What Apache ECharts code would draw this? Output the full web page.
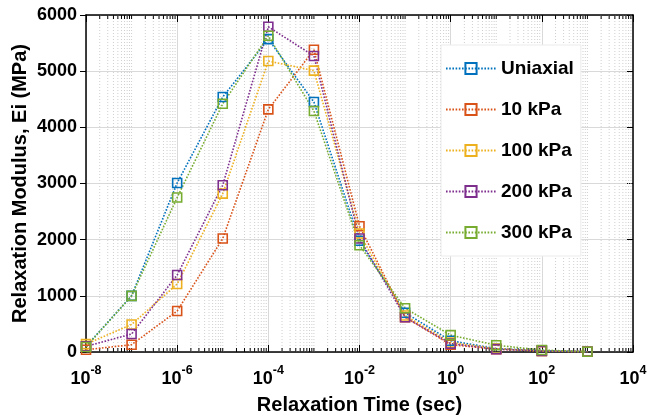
<!DOCTYPE html>
<html>
<head>
<meta charset="utf-8">
<script src="https://cdn.jsdelivr.net/npm/echarts@6/dist/echarts.min.js"></script>
<style>html,body{margin:0;padding:0;background:#fff;}#chart{width:648px;height:418px;}</style>
</head>
<body>
<div id="chart"></div>
<script>
// Relaxation times (sec)
var relaxTimes = [1e-8, 1e-7, 1e-6, 1e-5, 1e-4, 1e-3, 1e-2, 1e-1, 1e0, 1e1, 1e2, 1e3];
// Relaxation modulus Ei (MPa)
var uniaxial = [100, 1000, 3010, 4540, 5570, 4450, 1980, 700, 200, 60, 25, 5];
var kpa10    = [40, 130, 730, 2020, 4320, 5380, 2240, 620, 130, 50, 20, 5];
var kpa100   = [140, 490, 1210, 2820, 5180, 5010, 2110, 650, 170, 60, 20, 5];
var kpa200   = [100, 320, 1370, 2970, 5790, 5270, 2020, 620, 150, 50, 20, 5];
var kpa300   = [90, 1000, 2750, 4420, 5630, 4290, 1900, 780, 300, 120, 35, 5];
var seriesNames = ['Uniaxial', '10 kPa', '100 kPa', '200 kPa', '300 kPa'];
var yTicks = [0, 1000, 2000, 3000, 4000, 5000, 6000];
var xTickExponents = [-8, -6, -4, -2, 0, 2, 4];

var colors = ['#0072BD', '#D95319', '#EDB120', '#7E2F8E', '#77AC30'];
var allValues = [uniaxial, kpa10, kpa100, kpa200, kpa300];
var FONT = '"Liberation Sans", Arial, Helvetica, sans-serif';

// minor log tick positions (2..9 x 10^n plus undecorated odd decades)
var minorPos = [];
for (var n = -8; n < 4; n++) {
  if ((n - xTickExponents[0]) % 2 !== 0) minorPos.push([Math.pow(10, n), 0]);
  for (var k = 2; k <= 9; k++) minorPos.push([k * Math.pow(10, n), 0]);
}

var chart = echarts.init(document.getElementById('chart'), null, {renderer: 'canvas'});

var lineSeries = seriesNames.map(function (name, i) {
  return {
    name: name,
    type: 'line',
    data: relaxTimes.map(function (t, j) { return [t, allValues[i][j]]; }),
    symbol: 'rect',
    symbolSize: 9,
    showSymbol: true,
    color: colors[i],
    lineStyle: {color: colors[i], width: 1.6, type: [1.6, 1.6]},
    itemStyle: {color: 'rgba(255,255,255,0)', borderColor: colors[i], borderWidth: 1.6},
    emphasis: {disabled: true},
    z: 3
  };
});

var minorSeries = {
  type: 'custom',
  name: 'minor',
  silent: true,
  z: 1,
  clip: false,
  data: minorPos,
  encode: {x: 0, y: 1},
  renderItem: function (params, api) {
    var x = api.value(0);
    var top = api.coord([x, yTicks[yTicks.length - 1]]);
    var bot = api.coord([x, yTicks[0]]);
    return {
      type: 'group',
      children: [
        {type: 'line', shape: {x1: bot[0], y1: bot[1], x2: top[0], y2: top[1]},
         style: {stroke: '#cfcfcf', lineWidth: 1, lineDash: [1, 2]}},
        {type: 'line', shape: {x1: bot[0], y1: bot[1], x2: bot[0], y2: bot[1] - 4},
         style: {stroke: '#000', lineWidth: 1}},
        {type: 'line', shape: {x1: top[0], y1: top[1], x2: top[0], y2: top[1] + 4},
         style: {stroke: '#000', lineWidth: 1}}
      ]
    };
  }
};

var xLog = {
  type: 'log',
  logBase: 10,
  min: Math.pow(10, xTickExponents[0]),
  max: Math.pow(10, xTickExponents[xTickExponents.length - 1]),
  interval: 2,
  splitNumber: 6
};

var option = {
  animation: false,
  backgroundColor: '#fff',
  grid: {left: 86, right: 15, top: 15, bottom: 66, containLabel: false, outerBoundsMode: 'none'},
  legend: {
    data: seriesNames,
    orient: 'vertical',
    left: 441,
    top: 45,
    padding: [14, 7, 14, 4],
    itemWidth: 50,
    itemHeight: 14,
    itemGap: 22,
    backgroundColor: '#fff',
    borderColor: '#ebebeb',
    borderWidth: 1,
    textStyle: {fontFamily: FONT, fontWeight: 'bold', fontSize: 19, color: '#000'}
  },
  xAxis: [
    Object.assign({}, xLog, {
      position: 'bottom',
      name: 'Relaxation Time (sec)',
      nameLocation: 'middle',
      nameGap: 43,
      nameMoveOverlap: false,
      nameTextStyle: {fontFamily: FONT, fontWeight: 'bold', fontSize: 20, color: '#000'},
      axisLine: {show: true, onZero: false, lineStyle: {color: '#000', width: 1.5}},
      axisTick: {show: true, inside: true, length: 7, lineStyle: {color: '#000', width: 1}},
      minorTick: {show: false},
      splitLine: {show: true, lineStyle: {color: '#d9d9d9', width: 1}},
      axisLabel: {
        margin: 12,
        formatter: function (v) {
          var e = Math.round(Math.log(v) / Math.LN10);
          return '{b|10}{s|' + e + '}';
        },
        rich: {
          b: {fontFamily: FONT, fontWeight: 'bold', fontSize: 18, color: '#000', lineHeight: 24, verticalAlign: 'bottom'},
          s: {fontFamily: FONT, fontWeight: 'bold', fontSize: 12.5, color: '#000', lineHeight: 24, verticalAlign: 'top'}
        }
      }
    }),
    Object.assign({}, xLog, {
      position: 'top',
      axisLine: {show: true, onZero: false, lineStyle: {color: '#000', width: 1.5}},
      axisTick: {show: true, inside: true, length: 7, lineStyle: {color: '#000', width: 1}},
      axisLabel: {show: false},
      splitLine: {show: false}
    })
  ],
  yAxis: [
    {
      type: 'value',
      min: yTicks[0],
      max: yTicks[yTicks.length - 1],
      interval: 1000,
      position: 'left',
      name: 'Relaxation Modulus, Ei (MPa)',
      nameLocation: 'middle',
      nameGap: 56,
      nameMoveOverlap: false,
      nameTextStyle: {fontFamily: FONT, fontWeight: 'bold', fontSize: 20, color: '#000'},
      axisLine: {show: true, onZero: false, lineStyle: {color: '#000', width: 1.5}},
      axisTick: {show: true, inside: false, length: 6, lineStyle: {color: '#000', width: 1}},
      splitLine: {show: true, lineStyle: {color: '#d9d9d9', width: 1}},
      axisLabel: {margin: 9, fontFamily: FONT, fontWeight: 'bold', fontSize: 18, color: '#000',
                  formatter: function (v) { return String(v); }}
    },
    {
      type: 'value',
      min: yTicks[0],
      max: yTicks[yTicks.length - 1],
      interval: 1000,
      position: 'right',
      axisLine: {show: true, onZero: false, lineStyle: {color: '#000', width: 1.5}},
      axisTick: {show: true, inside: true, length: 6, lineStyle: {color: '#000', width: 1}},
      splitLine: {show: false},
      axisLabel: {show: false}
    }
  ],
  series: [minorSeries].concat(lineSeries)
};

chart.setOption(option);
</script>
</body>
</html>
